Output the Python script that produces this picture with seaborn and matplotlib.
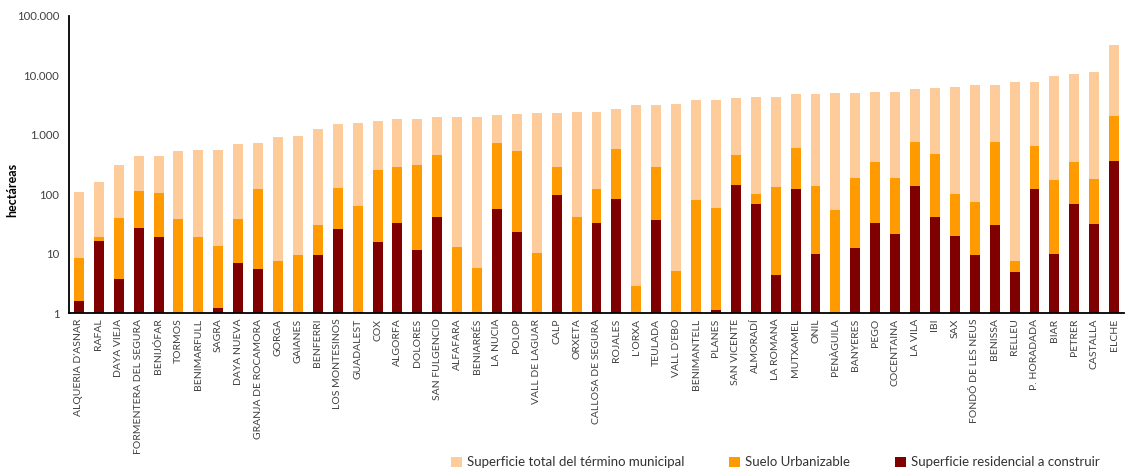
import matplotlib
matplotlib.use("Agg")
import matplotlib.pyplot as plt
import matplotlib.ticker as mticker
from matplotlib.patches import Patch
import seaborn as sns
import pandas as pd

municipios = [
    "ALQUERIA D'ASNAR", "RAFAL", "DAYA VIEJA", "FORMENTERA DEL SEGURA", "BENIJÓFAR",
    "TORMOS", "BENIMARFULL", "SAGRA", "DAYA NUEVA", "GRANJA DE ROCAMORA",
    "GORGA", "GAIANES", "BENFERRI", "LOS MONTESINOS", "GUADALEST",
    "COX", "ALGORFA", "DOLORES", "SAN FULGENCIO", "ALFAFARA",
    "BENIARRÉS", "LA NUCIA", "POLOP", "VALL DE LAGUAR", "CALP",
    "ORXETA", "CALLOSA DE SEGURA", "ROJALES", "L'ORXA", "TEULADA",
    "VALL D'EBO", "BENIMANTELL", "PLANES", "SAN VICENTE", "ALMORADÍ",
    "LA ROMANA", "MUTXAMEL", "ONIL", "PENÀGUILA", "BANYERES",
    "PEGO", "COCENTAINA", "LA VILA", "IBI", "SAX",
    "FONDÓ DE LES NEUS", "BENISSA", "RELLEU", "P. HORADADA", "BIAR",
    "PETRER", "CASTALLA", "ELCHE",
]

superficie_total = [
    108, 160, 309, 438, 438,
    531, 552, 552, 697, 725,
    915, 951, 1248, 1516, 1575,
    1702, 1840, 1840, 1990, 1990,
    1990, 2148, 2234, 2323, 2323,
    2415, 2415, 2711, 3168, 3168,
    3294, 3845, 3845, 4155, 4322,
    4322, 4855, 4855, 5047, 5047,
    5248, 5248, 5895, 6128, 6370,
    6887, 6887, 7730, 7730, 9770,
    10550, 11400, 32500,
]

suelo_urbanizable = [
    8.4, 18.9, 39.5, 112, 104,
    38, 18.9, 13.3, 38, 122,
    7.4, 9.4, 30, 126, 63,
    254, 286, 309, 455, 12.8,
    5.67, 725, 531, 10.1, 286,
    41, 122, 574, 2.82, 286,
    5.0, 79, 58, 455, 100,
    131, 597, 137, 53.8, 186,
    347, 186, 753, 473, 100,
    73.4, 753, 7.4, 645, 172,
    347, 179, 2067,
]

superficie_residencial = [
    1.57, 16.2, 3.7, 26.8, 18.9,
    0, 0, 1.2, 6.9, 5.45,
    0, 0, 9.4, 25.7, 1.05,
    15.5, 32.5, 11.4, 41, 0,
    0, 56, 22.9, 0, 96,
    0, 32.5, 82.5, 0, 36.5,
    0, 1.04, 1.11, 142, 68,
    4.3, 122, 9.76, 0, 12.3,
    32.5, 21.2, 137, 41, 19.6,
    9.4, 30, 4.85, 122, 9.76,
    68, 31.3, 360,
]

series = [
    ("Superficie total del término municipal", superficie_total, "#FECB9A"),
    ("Suelo Urbanizable", suelo_urbanizable, "#FF9A00"),
    ("Superficie residencial a construir", superficie_residencial, "#800000"),
]

sns.set_style("white")
plt.rcParams["font.family"] = ["Lato", "DejaVu Sans"]

fig = plt.figure(figsize=(11.27, 4.70), dpi=100)
ax = fig.add_axes([0.0612, 0.334, 0.9362, 0.632])
ax.set_yscale("log")

# overlapping bars, drawn largest first so the smaller series sit in front
for name, values, color in series:
    df = pd.DataFrame({"municipio": municipios, "valor": values})
    sns.barplot(data=df, x="municipio", y="valor", order=municipios,
                color=color, width=0.5, saturation=1, errorbar=None,
                linewidth=0, ax=ax)

ax.set_ylim(1, 100000)
ax.set_xlim(-0.5, len(municipios) - 0.5)
ax.yaxis.set_major_locator(mticker.FixedLocator([1, 10, 100, 1000, 10000, 100000]))
ax.yaxis.set_minor_locator(mticker.NullLocator())
ax.yaxis.set_major_formatter(
    mticker.FuncFormatter(lambda v, _: f"{int(round(v)):,}".replace(",", ".")))

ax.set_xlabel("")
ax.set_ylabel("hectáreas", fontsize=9, fontweight="bold", color="black")
ax.yaxis.set_label_coords(-0.048, 0.414)
ax.tick_params(axis="y", length=0, labelsize=8.2, labelcolor="#404040", pad=7)
ax.tick_params(axis="x", length=0, labelsize=7.5, labelcolor="#404040", pad=4,
               labelrotation=90)

for side in ("top", "right"):
    ax.spines[side].set_visible(False)
for side in ("left", "bottom"):
    ax.spines[side].set_color("black")
    ax.spines[side].set_linewidth(1.3)

handles = [Patch(facecolor=c, edgecolor="none", label=n) for n, _, c in series]
fig.legend(handles=handles, loc="lower center", bbox_to_anchor=(0.688, -0.022),
           ncol=3, frameon=False, fontsize=9.5, handlelength=0.8, handleheight=0.8,
           handletextpad=0.4, columnspacing=3.4, labelcolor="#333333")

fig.savefig("out.png", dpi=100)
